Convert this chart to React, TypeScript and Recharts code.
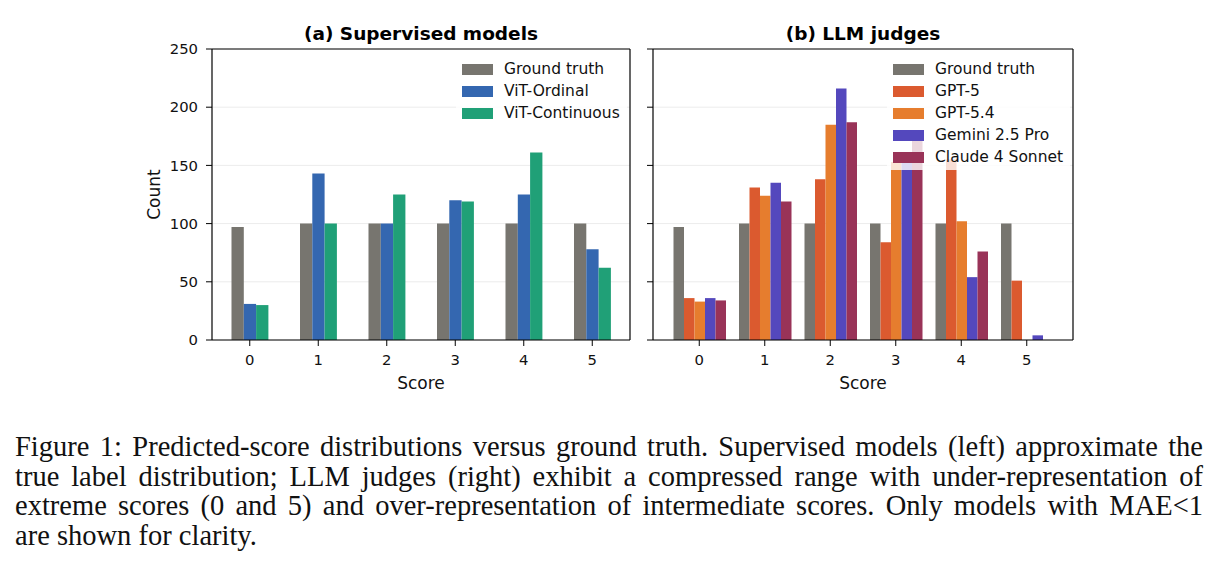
import React from 'react';
import { BarChart, Bar, XAxis, YAxis, CartesianGrid, Legend } from 'recharts';

// score buckets on the x axis
const scores = ['0', '1', '2', '3', '4', '5'];
const countTicks = [0, 50, 100, 150, 200, 250];

// counts per score bucket
const groundTruth = [97, 100, 100, 100, 100, 100];
const vitOrdinal = [31, 143, 100, 120, 125, 78];
const vitContinuous = [30, 100, 125, 119, 161, 62];
const gpt5 = [36, 131, 138, 84, 155, 51];
const gpt54 = [33, 124, 185, 153, 102, 0];
const gemini25Pro = [36, 135, 216, 152, 54, 4];
const claude4Sonnet = [34, 119, 187, 173, 76, 0];

const captionLines = [
  'Figure 1: Predicted-score distributions versus ground truth. Supervised models (left) approximate the',
  'true label distribution; LLM judges (right) exhibit a compressed range with under-representation of',
  'extreme scores (0 and 5) and over-representation of intermediate scores. Only models with MAE<1',
  'are shown for clarity.',
];

type Series = { key: string; name: string; color: string; values: number[] };

const supervisedSeries: Series[] = [
  { key: 'gt', name: 'Ground truth', color: '#77756f', values: groundTruth },
  { key: 'ordinal', name: 'ViT-Ordinal', color: '#3467b0', values: vitOrdinal },
  { key: 'continuous', name: 'ViT-Continuous', color: '#20a077', values: vitContinuous },
];

const judgeSeries: Series[] = [
  { key: 'gt', name: 'Ground truth', color: '#77756f', values: groundTruth },
  { key: 'gpt5', name: 'GPT-5', color: '#db5a2f', values: gpt5 },
  { key: 'gpt54', name: 'GPT-5.4', color: '#e67d2e', values: gpt54 },
  { key: 'gemini', name: 'Gemini 2.5 Pro', color: '#5448bd', values: gemini25Pro },
  { key: 'claude', name: 'Claude 4 Sonnet', color: '#993358', values: claude4Sonnet },
];

const toRows = (series: Series[]) =>
  scores.map((score, i) => {
    const row: Record<string, string | number> = { score };
    series.forEach((s) => {
      row[s.key] = s.values[i];
    });
    return row;
  });

const FONT = '"DejaVu Sans", Verdana, sans-serif';
const INK = '#111';
const axisLine = { stroke: '#000', strokeWidth: 1.2 };
const tickLine = { stroke: '#000', strokeWidth: 1 };
const noTickLabel = () => <g />;

const LegendBox = ({ series }: { series: Series[] }) => (
  <div style={{ background: 'rgba(255,255,255,0.8)', padding: '2px 7px 2px 6px', fontFamily: FONT }}>
    {series.map((s) => (
      <div key={s.key} style={{ display: 'flex', alignItems: 'center', height: 22 }}>
        <span style={{ display: 'inline-block', width: 31, height: 11, background: s.color, marginRight: 11 }} />
        <span style={{ fontSize: 15.5, color: INK, whiteSpace: 'nowrap', lineHeight: '22px' }}>{s.name}</span>
      </div>
    ))}
  </div>
);

interface PanelProps {
  title: string;
  series: Series[];
  width: number;
  yAxisWidth: number;
  marginRight: number;
  xPadding: number;
  barSize: number;
  showCountLabels: boolean;
  legendLeft: number;
}

const Panel: React.FC<PanelProps> = ({
  title, series, width, yAxisWidth, marginRight, xPadding, barSize, showCountLabels, legendLeft,
}) => (
  <BarChart
    width={width}
    height={400}
    data={toRows(series)}
    margin={{ top: 48, right: marginRight, bottom: 0, left: 0 }}
    barGap={0}
    barSize={barSize}
    style={{ fontFamily: FONT }}
  >
    <CartesianGrid vertical={false} stroke="#ececec" strokeWidth={1} />
    <XAxis
      dataKey="score"
      padding={{ left: xPadding, right: xPadding }}
      height={60}
      tickSize={6}
      tickMargin={8}
      axisLine={axisLine}
      tickLine={tickLine}
      tick={{ fill: INK, fontSize: 14.8 }}
      label={{ value: 'Score', position: 'insideBottom', offset: 11, fill: INK, fontSize: 17 }}
    />
    {/* top spine + panel title */}
    <XAxis
      xAxisId="frame"
      orientation="top"
      dataKey="score"
      height={1}
      tick={noTickLabel}
      tickLine={false}
      axisLine={axisLine}
      label={{ value: title, position: 'top', offset: 8, fill: '#000', fontSize: 18.5, fontWeight: 'bold' }}
    />
    <YAxis
      type="number"
      domain={[0, 250]}
      ticks={countTicks}
      width={yAxisWidth}
      tickSize={6}
      tickMargin={8}
      axisLine={axisLine}
      tickLine={tickLine}
      tick={showCountLabels ? { fill: INK, fontSize: 14.8 } : noTickLabel}
      label={
        showCountLabels
          ? { value: 'Count', angle: -90, position: 'center', dx: 48, fill: INK, fontSize: 17 }
          : undefined
      }
    />
    {/* right spine */}
    <YAxis
      yAxisId="frame"
      orientation="right"
      type="number"
      domain={[0, 250]}
      width={1}
      tick={noTickLabel}
      tickLine={false}
      axisLine={axisLine}
    />
    <Legend
      layout="vertical"
      align="center"
      verticalAlign="middle"
      wrapperStyle={{ top: 56, left: legendLeft, width: 'auto', height: 'auto' }}
      content={() => <LegendBox series={series} />}
    />
    {series.map((s) => (
      <Bar key={s.key} dataKey={s.key} name={s.name} fill={s.color} isAnimationActive={false} />
    ))}
  </BarChart>
);

export default function App() {
  return (
    <div style={{ position: 'absolute', left: 0, top: 0, width: 1221, height: 579, background: '#fff', overflow: 'hidden' }}>
      <div style={{ position: 'absolute', left: 0, top: 0 }}>
        <Panel
          title="(a) Supervised models"
          series={supervisedSeries}
          width={640}
          yAxisWidth={212}
          marginRight={9}
          xPadding={3.5}
          barSize={12.3}
          showCountLabels
          legendLeft={456}
        />
      </div>
      <div style={{ position: 'absolute', left: 640, top: 0 }}>
        <Panel
          title="(b) LLM judges"
          series={judgeSeries}
          width={440}
          yAxisWidth={13}
          marginRight={6}
          xPadding={13.5}
          barSize={10.5}
          showCountLabels={false}
          legendLeft={247}
        />
      </div>
      <div
        style={{
          position: 'absolute',
          left: 15,
          top: 432,
          width: 1188,
          fontFamily: '"Liberation Serif", "Times New Roman", serif',
          fontSize: 28.5,
          lineHeight: '29.5px',
          color: '#111',
        }}
      >
        {captionLines.map((line, i) => (
          <div
            key={i}
            style={{
              whiteSpace: 'nowrap',
              textAlign: 'justify',
              textAlignLast: i < captionLines.length - 1 ? 'justify' : 'left',
            }}
          >
            {line}
          </div>
        ))}
      </div>
    </div>
  );
}
